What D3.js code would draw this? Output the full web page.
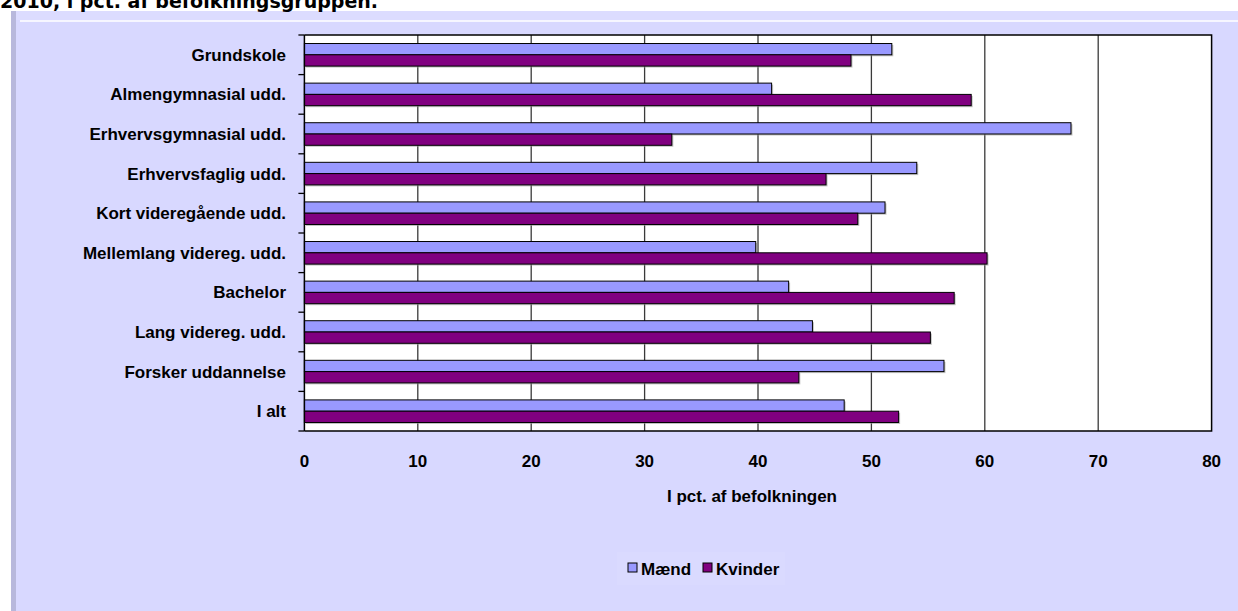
<!DOCTYPE html>
<html>
<head>
<meta charset="utf-8">
<script src="https://cdn.jsdelivr.net/npm/d3@7"></script>
<style>
  body { margin: 0; background: #fff; }
  text { font-family: "Liberation Sans", Arial, sans-serif; font-weight: bold; fill: #000; }
</style>
</head>
<body>
<svg id="chart" width="1238" height="611"></svg>
<script>
// data
const categories = ['Grundskole', 'Almengymnasial udd.', 'Erhvervsgymnasial udd.', 'Erhvervsfaglig udd.',
    'Kort videregående udd.', 'Mellemlang videreg. udd.', 'Bachelor', 'Lang videreg. udd.',
    'Forsker uddannelse', 'I alt']
const maend   = [51.8, 41.2, 67.6, 54.0, 51.2, 39.8, 42.7, 44.8, 56.4, 47.6]
const kvinder = [48.2, 58.8, 32.4, 46.0, 48.8, 60.2, 57.3, 55.2, 43.6, 52.4]
const seriesNames = ['Mænd', 'Kvinder']
const seriesColors = ['#9999ff', '#800080']
const xTicks = [0, 10, 20, 30, 40, 50, 60, 70, 80]
const title = '2010, i pct. af befolkningsgruppen.'
const xTitle = 'I pct. af befolkningen'

let svg = d3.select('#chart')

// frame of the chart object
svg.append('rect').attr('x', 11).attr('y', 11).attr('width', 1227).attr('height', 600).attr('fill', '#d8d8ff')
svg.append('rect').attr('x', 11).attr('y', 11).attr('width', 5).attr('height', 600).attr('fill', '#b8b8dc')
svg.append('rect').attr('x', 16).attr('y', 11).attr('width', 1222).attr('height', 9).attr('fill', '#dcdcff')
svg.append('rect').attr('x', 20).attr('y', 20).attr('width', 1218).attr('height', 2).attr('fill', '#f6f6ff')

// title, cut off at the top edge as in the source
svg.append('text')
    .attr('x', 0).attr('y', 8)
    .style('font-family', '"DejaVu Sans", Verdana, sans-serif')
    .style('font-size', '19px')
    .text(title)

let x = d3.scaleLinear().domain([0, 80]).range([304.4, 1211.6])
let y = d3.scaleBand().domain(categories).range([35, 431]).paddingInner(0.43).paddingOuter(0.215)
let ySub = d3.scaleBand().domain(seriesNames).range([0, y.bandwidth()])

// plot area
svg.append('rect')
    .attr('x', x(0)).attr('y', 35)
    .attr('width', x(80) - x(0)).attr('height', 396)
    .attr('fill', '#fff')

// gridlines
svg.append('g').selectAll('line')
    .data(xTicks.slice(1, -1))
    .join('line')
    .attr('x1', d => x(d)).attr('x2', d => x(d))
    .attr('y1', 35).attr('y2', 431)
    .attr('stroke', '#3a3a3a').attr('stroke-width', 1.3)

// bars
let rows = categories.map((c, i) => [
    { cat: c, s: 'Mænd', v: maend[i] },
    { cat: c, s: 'Kvinder', v: kvinder[i] }
]).flat()

svg.append('g').selectAll('rect')
    .data(rows)
    .join('rect')
    .attr('x', x(0) + 1.5)
    .attr('y', d => y(d.cat) + ySub(d.s) + 1.5)
    .attr('width', d => x(d.v) - x(0))
    .attr('height', ySub.bandwidth())
    .attr('fill', '#999')
    .attr('opacity', 0.6)

svg.append('g').selectAll('rect')
    .data(rows)
    .join('rect')
    .attr('x', x(0))
    .attr('y', d => y(d.cat) + ySub(d.s))
    .attr('width', d => x(d.v) - x(0))
    .attr('height', ySub.bandwidth())
    .attr('fill', d => seriesColors[seriesNames.indexOf(d.s)])
    .attr('stroke', '#000').attr('stroke-width', 1)

// plot border (top, right, bottom)
svg.append('path')
    .attr('d', `M${x(0)},35H${x(80)}V431H${x(0)}`)
    .attr('fill', 'none').attr('stroke', '#000').attr('stroke-width', 1.5)

// category axis with ticks at band boundaries
let yAxis = svg.append('g')
yAxis.append('line')
    .attr('x1', x(0)).attr('x2', x(0)).attr('y1', 35).attr('y2', 431)
    .attr('stroke', '#000').attr('stroke-width', 1.5)
yAxis.selectAll('.tk')
    .data(d3.range(categories.length + 1))
    .join('line')
    .attr('class', 'tk')
    .attr('x1', x(0) - 6).attr('x2', x(0))
    .attr('y1', i => 35 + i * y.step()).attr('y2', i => 35 + i * y.step())
    .attr('stroke', '#000').attr('stroke-width', 1.3)
yAxis.selectAll('text')
    .data(categories)
    .join('text')
    .attr('x', 286)
    .attr('y', d => y(d) + y.bandwidth() / 2 + 6)
    .attr('text-anchor', 'end')
    .style('font-size', '17px')
    .text(d => d)

// value axis labels
svg.append('g').selectAll('text')
    .data(xTicks)
    .join('text')
    .attr('x', d => x(d))
    .attr('y', 466.5)
    .attr('text-anchor', 'middle')
    .style('font-size', '17px')
    .text(d => d)

svg.append('text')
    .attr('x', 752).attr('y', 501.5)
    .attr('text-anchor', 'middle')
    .style('font-size', '17px')
    .text(xTitle)

// legend
let legend = svg.append('g')
legend.append('rect')
    .attr('x', 617).attr('y', 552).attr('width', 168).attr('height', 33)
    .attr('fill', '#dadaff')
let legendX = [628, 703]
seriesNames.forEach((s, i) => {
    legend.append('rect')
        .attr('x', legendX[i]).attr('y', 563).attr('width', 9).attr('height', 9)
        .attr('fill', seriesColors[i]).attr('stroke', '#000').attr('stroke-width', 1)
    legend.append('text')
        .attr('x', legendX[i] + 13).attr('y', 575)
        .style('font-size', '17px')
        .text(s)
})
</script>
</body>
</html>
